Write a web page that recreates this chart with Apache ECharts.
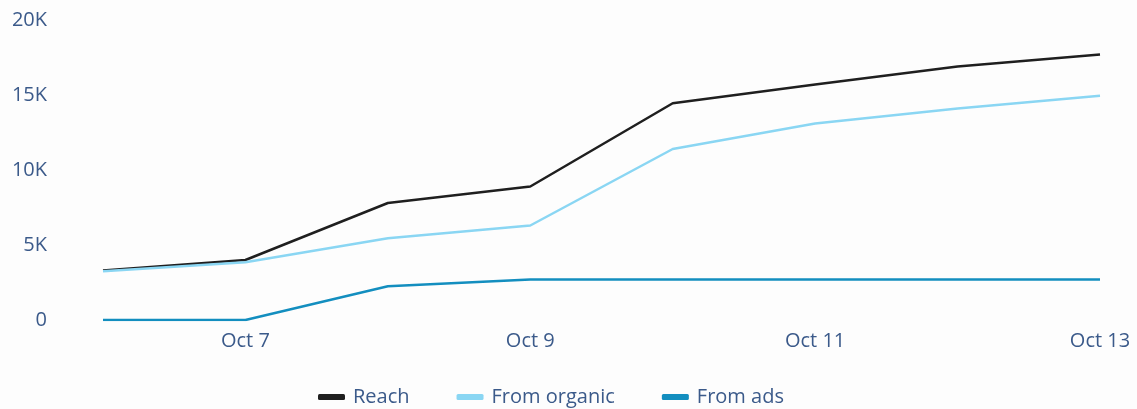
<!DOCTYPE html>
<html>
<head>
<meta charset="utf-8">
<script src="https://cdn.jsdelivr.net/npm/echarts@6/dist/echarts.min.js"></script>
<style>
html,body{margin:0;padding:0;background:#fdfdfd;}
#c{width:1137px;height:409px;}
</style>
</head>
<body>
<div id="c"></div>
<script>
const categories = ['Oct 6','Oct 7','Oct 8','Oct 9','Oct 10','Oct 11','Oct 12','Oct 13'];
const reach = [3300, 4000, 7800, 8900, 14450, 15700, 16900, 17700];
const fromOrganic = [3250, 3850, 5450, 6300, 11400, 13100, 14100, 14950];
const fromAds = [0, 0, 2250, 2700, 2700, 2700, 2700, 2700];
const yTicks = [0, 5000, 10000, 15000, 20000];

const chart = echarts.init(document.getElementById('c'));
const font = '"Open Sans", "Noto Sans", sans-serif';
const labelColor = '#3b5a8a';
chart.setOption({
  animation: false,
  backgroundColor: '#fdfdfd',
  grid: {left: 103, right: 37, top: 20, bottom: 89},
  xAxis: {
    type: 'category',
    data: categories,
    boundaryGap: false,
    axisLine: {show: false},
    axisTick: {show: false},
    axisLabel: {
      interval: function (i) { return i % 2 === 1; },
      color: labelColor, fontFamily: font, fontSize: 20, margin: 11
    },
    splitLine: {show: false}
  },
  yAxis: {
    type: 'value',
    min: yTicks[0],
    max: yTicks[yTicks.length - 1],
    interval: yTicks[1] - yTicks[0],
    axisLine: {show: false},
    axisTick: {show: false},
    splitLine: {show: false},
    axisLabel: {
      color: labelColor, fontFamily: font, fontSize: 20, margin: 56,
      formatter: function (v) { return v === 0 ? '0' : (v / 1000) + 'K'; }
    }
  },
  legend: {
    top: 382,
    left: 313,
    itemGap: 47,
    itemWidth: 27,
    itemHeight: 6,
    textStyle: {color: labelColor, fontFamily: font, fontSize: 20, padding: [0, 0, 0, 3]},
    data: [
      {name: 'Reach', icon: 'roundRect'},
      {name: 'From organic', icon: 'roundRect'},
      {name: 'From ads', icon: 'roundRect'}
    ]
  },
  series: [
    {name: 'Reach', type: 'line', data: reach, symbol: 'none',
     lineStyle: {color: '#1f1f1f', width: 2.5}, itemStyle: {color: '#1f1f1f'}},
    {name: 'From organic', type: 'line', data: fromOrganic, symbol: 'none',
     lineStyle: {color: '#8ad6f3', width: 2.5}, itemStyle: {color: '#8ad6f3'}},
    {name: 'From ads', type: 'line', data: fromAds, symbol: 'none',
     lineStyle: {color: '#138ebf', width: 2.5}, itemStyle: {color: '#138ebf'}}
  ]
});
</script>
</body>
</html>
